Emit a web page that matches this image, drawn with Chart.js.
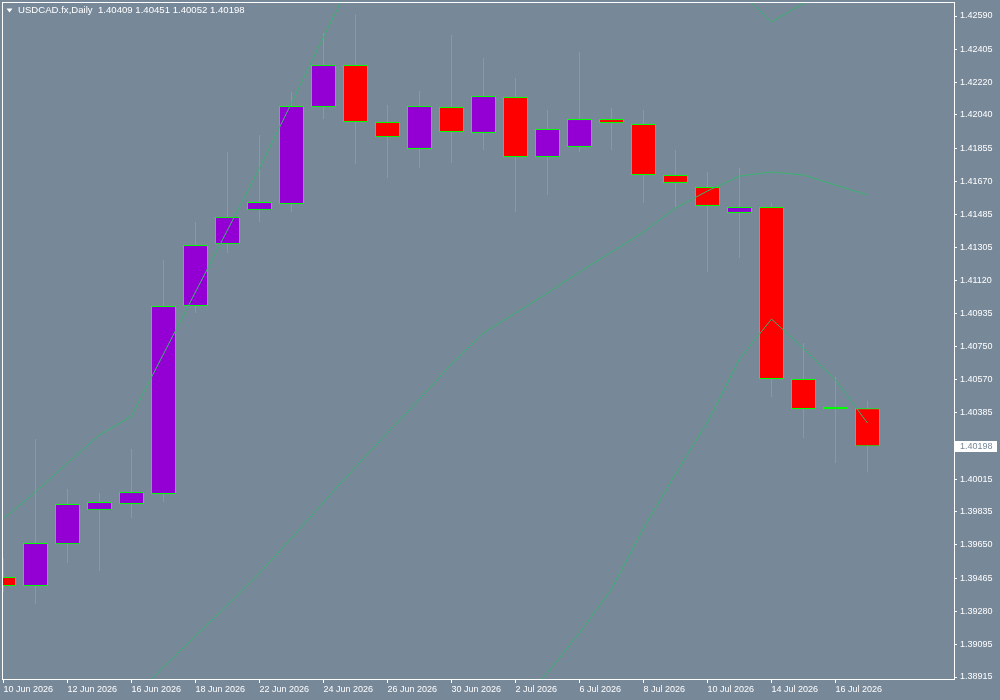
<!DOCTYPE html>
<html>
<head>
<meta charset="utf-8">
<script src="https://cdn.jsdelivr.net/npm/chart.js@4.4.1/dist/chart.umd.min.js"></script>
<style>
  html, body { margin: 0; padding: 0; background: #778899; }
  #wrap { width: 1000px; height: 700px; }
</style>
</head>
<body>
<div id="wrap"><canvas id="myChart"></canvas></div>
<script>
const dates = ['10 Jun 2026', '11 Jun 2026', '12 Jun 2026', '15 Jun 2026', '16 Jun 2026', '17 Jun 2026',
  '18 Jun 2026', '19 Jun 2026', '22 Jun 2026', '23 Jun 2026', '24 Jun 2026', '25 Jun 2026', '26 Jun 2026',
  '29 Jun 2026', '30 Jun 2026', '1 Jul 2026', '2 Jul 2026', '3 Jul 2026', '6 Jul 2026', '7 Jul 2026',
  '8 Jul 2026', '9 Jul 2026', '10 Jul 2026', '13 Jul 2026', '14 Jul 2026', '15 Jul 2026', '16 Jul 2026',
  '17 Jul 2026'];

const open = [1.39471, 1.39421, 1.39654, 1.39843, 1.39877, 1.39932, 1.40978, 1.41322, 1.41511, 1.41545,
  1.42084, 1.42318, 1.42001, 1.41851, 1.42084, 1.41940, 1.42140, 1.41806, 1.41862, 1.42017,
  1.41990, 1.41706, 1.41639, 1.41495, 1.41528, 1.40572, 1.40405, 1.40409];
const high = [1.39577, 1.40238, 1.39960, 1.39938, 1.40183, 1.41233, 1.41445, 1.41834, 1.41928, 1.42167,
  1.42495, 1.42600, 1.42095, 1.42173, 1.42484, 1.42357, 1.42245, 1.42067, 1.42390, 1.42079,
  1.42067, 1.41845, 1.41723, 1.41745, 1.41550, 1.40772, 1.40583, 1.40451];
const low = [1.39388, 1.39321, 1.39549, 1.39504, 1.39799, 1.39888, 1.40939, 1.41272, 1.41445, 1.41500,
  1.42017, 1.41767, 1.41689, 1.41745, 1.41773, 1.41845, 1.41500, 1.41595, 1.41834, 1.41845,
  1.41550, 1.41528, 1.41167, 1.41245, 1.40472, 1.40244, 1.40105, 1.40052];
const close = [1.39421, 1.39660, 1.39877, 1.39888, 1.39944, 1.40978, 1.41317, 1.41473, 1.41556, 1.42090,
  1.42318, 1.42001, 1.41917, 1.42090, 1.41945, 1.42145, 1.41806, 1.41962, 1.42017, 1.41995,
  1.41706, 1.41662, 1.41534, 1.41528, 1.40572, 1.40405, 1.40416, 1.40198];

// indicator lines (parts above/below the window are estimates)
const lineUpper = [1.39796, 1.39944, 1.40105, 1.40260, 1.40366, 1.40711, 1.41056, 1.41400, 1.41745, 1.42106,
  1.42473, 1.42835, 1.43100, 1.43250, 1.43300, 1.43320, 1.43300, 1.43250, 1.43180, 1.43100,
  1.43000, 1.42900, 1.42800, 1.42726, 1.42557, 1.42660, 1.42746, 1.42818];
const lineMiddle = [null, null, null, null, 1.38787, 1.38971, 1.39143, 1.39315, 1.39493, 1.39688,
  1.39888, 1.40083, 1.40272, 1.40461, 1.40655, 1.40828, 1.40939, 1.41050, 1.41167, 1.41278,
  1.41389, 1.41523, 1.41617, 1.41700, 1.41723, 1.41706, 1.41650, 1.41595];
const lineLower = [null, null, null, null, null, null, null, null, null, null,
  null, null, null, null, null, null, 1.38730, 1.38940, 1.39160, 1.39404,
  1.39743, 1.40044, 1.40333, 1.40683, 1.40905, 1.40741, 1.40566, 1.40327];

const priceTicks = [1.42590, 1.42405, 1.42220, 1.42040, 1.41855, 1.41670, 1.41485, 1.41305, 1.41120,
  1.40935, 1.40750, 1.40570, 1.40385, 1.40015, 1.39835, 1.39650, 1.39465, 1.39280, 1.39095, 1.38915];

const symbolTitle = 'USDCAD.fx,Daily';

const BG = '#778899';
const BULL = '#9400d3';
const BEAR = '#ff0000';
const EDGE = '#00ff00';
const MA = '#3cb371';

const idx = dates.map((d, i) => i);
const toXY = (arr) => arr.map((v, i) => ({ x: i, y: v }));

// no extra room for first/last labels, the frame is fixed
const noPad = (s) => {
  s.paddingTop = 0;
  s.paddingBottom = 0;
  s.paddingLeft = 0;
  s.paddingRight = 0;
};

const chartFrame = {
  id: 'chartFrame',
  afterDraw(chart) {
    const c = chart.ctx;
    const y = chart.scales.y;
    c.save();
    c.strokeStyle = '#ffffff';
    c.lineWidth = 1;
    c.strokeRect(2.5, 2.5, 952, 677);

    // header
    c.fillStyle = '#ffffff';
    c.beginPath();
    c.moveTo(6.5, 8.5);
    c.lineTo(12.5, 8.5);
    c.lineTo(9.5, 12.5);
    c.closePath();
    c.fill();
    c.font = "9.6px 'Liberation Sans', Arial, sans-serif";
    c.textBaseline = 'middle';
    c.textAlign = 'left';
    const last = close.length - 1;
    const hdr = symbolTitle + '  ' + [open[last], high[last], low[last], close[last]].map(v => v.toFixed(5)).join(' ');
    c.fillText(hdr, 18, 10.5);

    // current price label
    const py = Math.round(y.getPixelForValue(close[last]));
    c.fillStyle = '#ffffff';
    c.fillRect(955, py - 5, 42, 11);
    c.fillStyle = BG;
    c.font = "9px 'Liberation Sans', Arial, sans-serif";
    c.fillText(close[last].toFixed(5), 960, py + 0.5);
    c.restore();
  }
};

const ctx = document.getElementById('myChart').getContext('2d');
Chart.defaults.font.family = "'Liberation Sans', Arial, sans-serif";
Chart.defaults.font.size = 9;
Chart.defaults.color = '#ffffff';

const myChart = new Chart(ctx, {
  type: 'bar',
  data: {
    datasets: [
      {
        type: 'line',
        data: toXY(lineUpper),
        borderColor: MA,
        borderWidth: 1,
        pointRadius: 0,
        spanGaps: false,
        order: 0
      },
      {
        type: 'line',
        data: toXY(lineMiddle),
        borderColor: MA,
        borderWidth: 1,
        pointRadius: 0,
        spanGaps: false,
        order: 0
      },
      {
        type: 'line',
        data: toXY(lineLower),
        borderColor: MA,
        borderWidth: 1,
        pointRadius: 0,
        spanGaps: false,
        order: 0
      },
      {
        // candle bodies
        data: idx.map(i => ({ x: i, y: [open[i], close[i]] })),
        backgroundColor: idx.map(i => close[i] < open[i] ? BEAR : BULL),
        borderColor: EDGE,
        borderWidth: 1,
        borderSkipped: false,
        inflateAmount: 0,
        barThickness: 25,
        grouped: false,
        clip: 0,
        order: 1
      },
      {
        // wicks
        data: idx.map(i => ({ x: i, y: [low[i], high[i]] })),
        backgroundColor: EDGE,
        borderWidth: 0,
        inflateAmount: 0,
        barThickness: 1,
        grouped: false,
        clip: 0,
        order: 2
      }
    ]
  },
  options: {
    responsive: true,
    maintainAspectRatio: false,
    animation: false,
    layout: { padding: { left: 3, top: 3, right: 0, bottom: 0 } },
    plugins: {
      legend: { display: false },
      tooltip: { enabled: false }
    },
    scales: {
      x: {
        type: 'linear',
        offset: false,
        min: -0.015625,
        max: 29.703125,
        afterFit: (s) => { s.height = 21; noPad(s); },
        afterBuildTicks: (s) => {
          s.ticks = idx.filter(i => i % 2 === 0).map(i => ({ value: i }));
        },
        ticks: {
          autoSkip: false,
          maxRotation: 0,
          align: 'start',
          padding: 1,
          color: '#ffffff',
          callback: (v) => dates[v]
        },
        grid: { drawOnChartArea: false, offset: false, tickLength: 4, tickColor: '#ffffff' },
        border: { display: false }
      },
      y: {
        type: 'linear',
        position: 'right',
        min: 1.389039,
        max: 1.426623,
        afterFit: (s) => { s.width = 46; noPad(s); },
        afterBuildTicks: (s) => {
          s.ticks = priceTicks.map(v => ({ value: v }));
        },
        ticks: {
          autoSkip: false,
          padding: 3,
          color: '#ffffff',
          callback: (v) => v.toFixed(5)
        },
        grid: { drawOnChartArea: false, tickLength: 3, tickColor: '#ffffff' },
        border: { display: false }
      }
    }
  },
  plugins: [chartFrame]
});
</script>
</body>
</html>
